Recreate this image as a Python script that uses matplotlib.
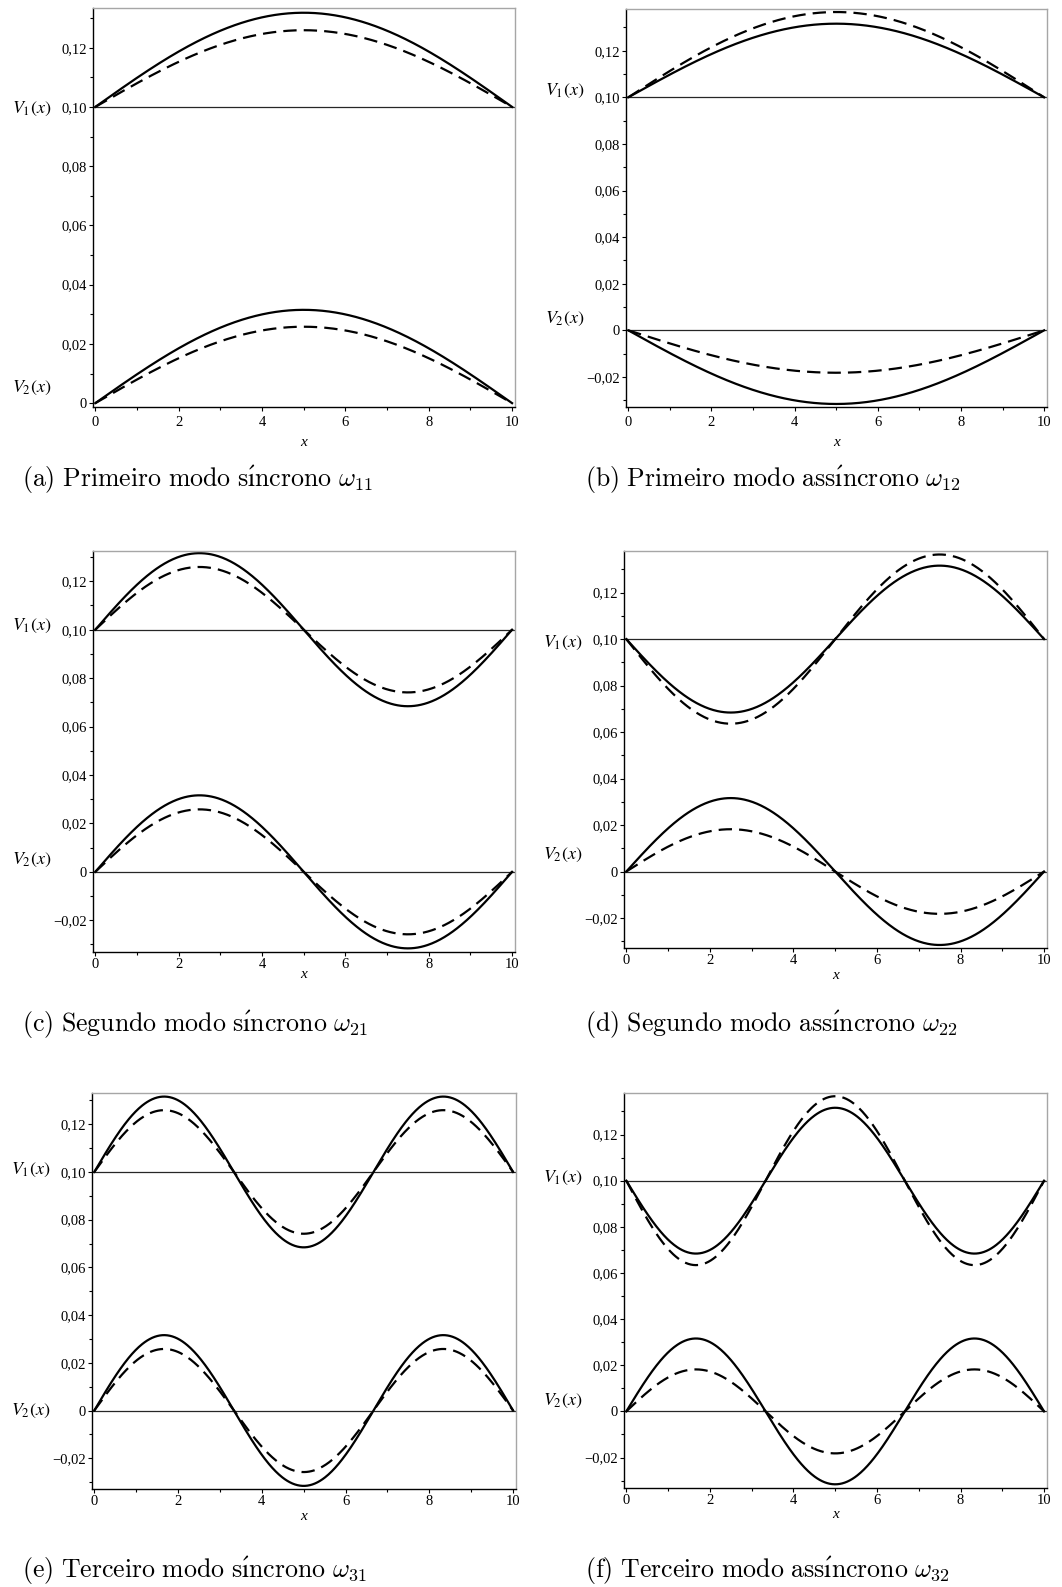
import numpy as np
import matplotlib.pyplot as plt
from matplotlib.ticker import MultipleLocator, FuncFormatter

plt.rcParams['mathtext.fontset'] = 'cm'

# mode number of each panel (a)..(f)
modes = [1, 1, 2, 2, 3, 3]

# amplitudes of V1 (about 0.10) and V2 (about 0): solid and dashed curves
v1_solid = [0.0318, 0.0316, 0.0316, -0.0316, 0.0316, -0.0316]
v1_dashed = [0.0259, 0.0366, 0.0259, -0.0364, 0.0259, -0.0366]
v2_solid = [0.0315, -0.0316, 0.0316, 0.0316, 0.0316, 0.0316]
v2_dashed = [0.0258, -0.0182, 0.0258, 0.0182, 0.0258, 0.0182]
v1_base = 0.10
v2_base = 0.0
beam_len = 10.0

captions = [
    r'$\mathrm{(a)\ Primeiro\ modo\ s\acute{ı}ncrono}\ \omega_{11}$',
    r'$\mathrm{(b)\ Primeiro\ modo\ ass\acute{ı}ncrono}\ \omega_{12}$',
    r'$\mathrm{(c)\ Segundo\ modo\ s\acute{ı}ncrono}\ \omega_{21}$',
    r'$\mathrm{(d)\ Segundo\ modo\ ass\acute{ı}ncrono}\ \omega_{22}$',
    r'$\mathrm{(e)\ Terceiro\ modo\ s\acute{ı}ncrono}\ \omega_{31}$',
    r'$\mathrm{(f)\ Terceiro\ modo\ ass\acute{ı}ncrono}\ \omega_{32}$',
]

W, H = 1062, 1587
fig = plt.figure(figsize=(W / 100, H / 100), dpi=100)

# axes boxes in pixels: left, right, top, bottom
boxes = [(93, 515, 8, 407), (626, 1047, 9, 407),
         (93, 515, 551, 952), (624, 1047, 551, 948),
         (92, 516, 1093, 1489), (624, 1047, 1093, 1488)]
ylims = [(-0.0013, 0.1334), (-0.0329, 0.1379),
         (-0.0331, 0.1325), (-0.0329, 0.1379),
         (-0.0329, 0.1331), (-0.0332, 0.138)]
# vertical nudges (pixels) for the V1 / V2 labels
lab_dy = [(-2, 15), (6, 11), (4, 12), (-4, 17), (2, 0), (3, 10)]
# distance (pixels) of the x label below each axes
xlab_off = [35, 35, 23, 27, 28, 27]
xtick_pad = [3.5, 3.5, 1.5, 1.5, 1.5, 1.5]
cap_pos = [(22, 480), (585, 480), (22, 1025), (585, 1025), (22, 1571), (585, 1571)]


def fmt(v, pos):
    if abs(v) < 1e-9:
        return '0'
    s = '%.2f' % v
    return s.replace('.', ',').replace('-', '\u2212')


x = np.linspace(0, beam_len, 500)

for i in range(6):
    l, r, t, b = boxes[i]
    ax = fig.add_axes([l / W, 1 - b / H, (r - l) / W, (b - t) / H])
    shape = np.sin(modes[i] * np.pi * x / beam_len)

    ax.axhline(v1_base, color='0.15', lw=0.9, zorder=1)
    if ylims[i][0] < -0.005:
        ax.axhline(v2_base, color='0.15', lw=0.9, zorder=1)

    ax.plot(x, v1_base + v1_solid[i] * shape, color='black', lw=1.6)
    ax.plot(x, v1_base + v1_dashed[i] * shape, color='black', lw=1.6,
            dashes=(6, 3.2))
    ax.plot(x, v2_base + v2_solid[i] * shape, color='black', lw=1.6)
    ax.plot(x, v2_base + v2_dashed[i] * shape, color='black', lw=1.6,
            dashes=(6, 3.2))

    ax.set_xlim(-0.055, 10.07)
    ax.set_ylim(*ylims[i])

    ax.xaxis.set_major_locator(MultipleLocator(2))
    ax.xaxis.set_minor_locator(MultipleLocator(1))
    ax.yaxis.set_major_locator(MultipleLocator(0.02))
    ax.yaxis.set_minor_locator(MultipleLocator(0.01))
    ax.yaxis.set_major_formatter(FuncFormatter(fmt))
    ax.tick_params(which='major', direction='out', length=3, width=0.8, pad=1.5)
    ax.tick_params(which='minor', direction='out', length=2, width=0.8)
    ax.tick_params(axis='x', which='major', pad=xtick_pad[i])
    for lab in ax.get_xticklabels() + ax.get_yticklabels():
        lab.set_fontfamily('Liberation Serif')
        lab.set_fontsize(10.5)

    for side in ['left', 'bottom']:
        ax.spines[side].set_color('black')
        ax.spines[side].set_linewidth(1.0)
    for side in ['top', 'right']:
        ax.spines[side].set_color('0.65')
        ax.spines[side].set_linewidth(1.0)

    ax.annotate('x', xy=(0.5, 0), xycoords='axes fraction',
                xytext=(0, -xlab_off[i]), textcoords='offset pixels',
                ha='center', va='center', fontfamily='Liberation Serif',
                style='italic', fontsize=11)

    d1, d2 = lab_dy[i]
    ax.annotate(r'$V_1(x)$', xy=(0, v1_base), xycoords=('axes fraction', 'data'),
                xytext=(-81, d1), textcoords='offset pixels',
                ha='left', va='center', fontsize=13, math_fontfamily='stix')
    ax.annotate(r'$V_2(x)$', xy=(0, v2_base), xycoords=('axes fraction', 'data'),
                xytext=(-81, d2), textcoords='offset pixels',
                ha='left', va='center', fontsize=13, math_fontfamily='stix')

    cx, cy = cap_pos[i]
    fig.text(cx / W, 1 - cy / H, captions[i], ha='left', va='center', fontsize=18.6)

fig.savefig('out.png', dpi=100)
